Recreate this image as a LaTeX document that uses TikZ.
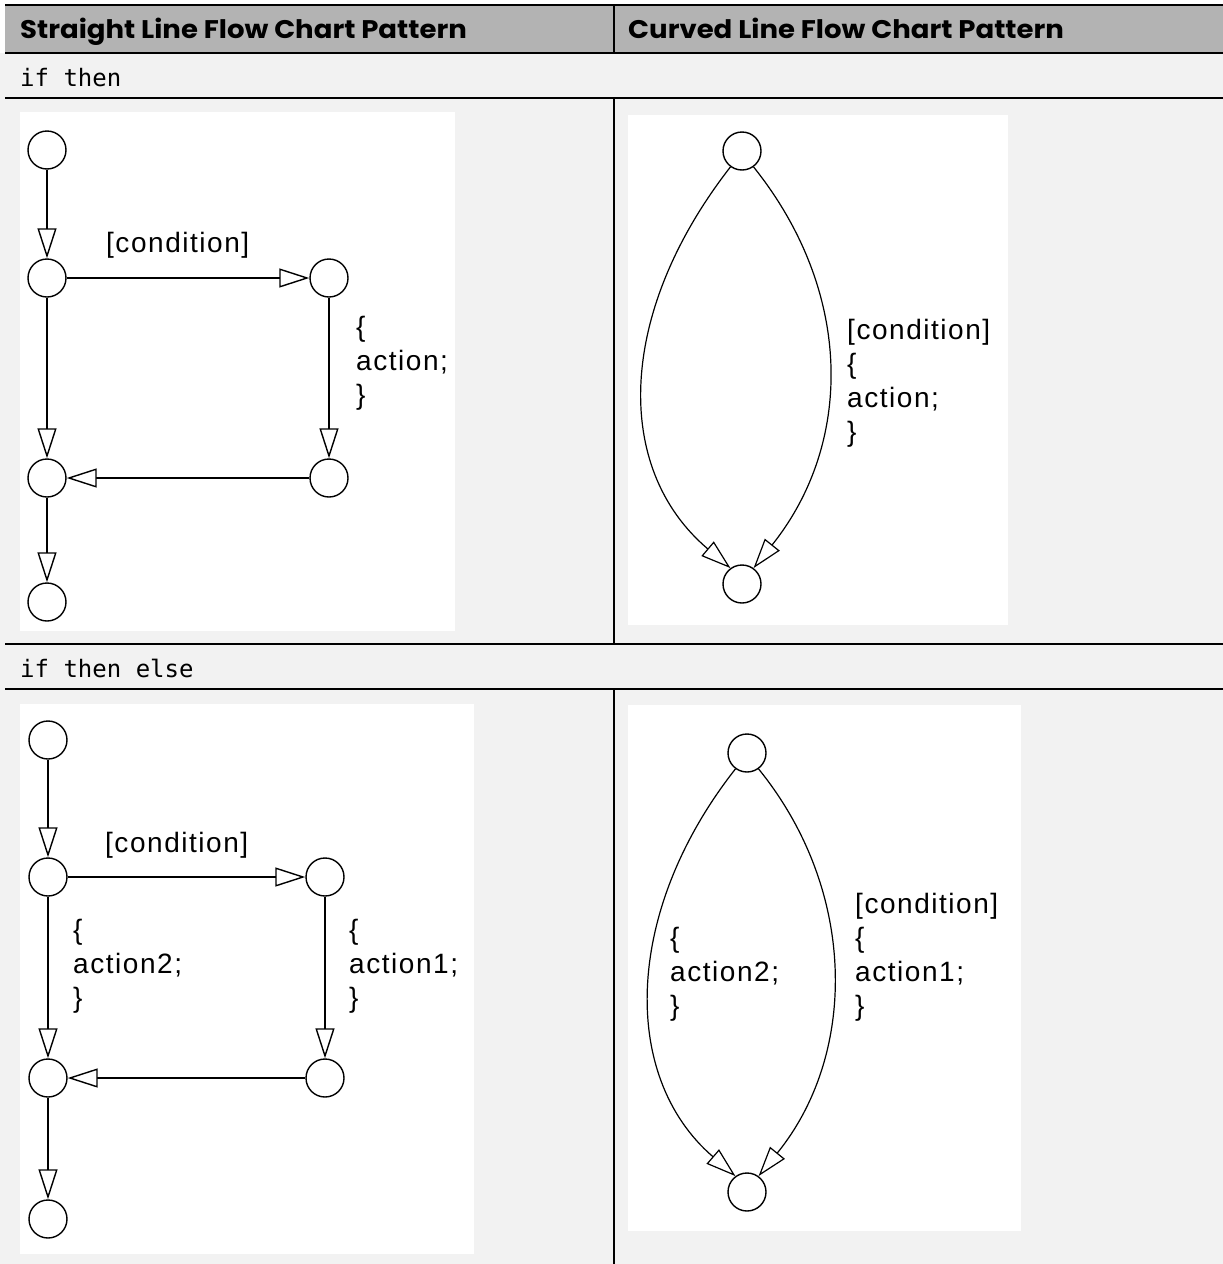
\documentclass[tikz,border=0pt]{standalone}
\usepackage{fontspec}
\setmainfont{Liberation Sans}
\newfontfamily\hdrfont{Poppins}
\newfontfamily\codefont{DejaVu Sans Mono}
\newfontfamily\lblfont{Liberation Sans}[LetterSpace=5.5]
\usetikzlibrary{arrows.meta}
\definecolor{hdrgray}{RGB}{179,179,179}
\definecolor{rowgray}{RGB}{242,242,242}
\newcommand{\lstack}[1]{\begin{tabular}[t]{@{}l@{}}#1\end{tabular}}
\newcommand{\hdrtext}[1]{\scalebox{1.08}[1]{#1}}
\tikzset{
  st/.style={circle,draw,line width=1.4pt,minimum size=38pt,inner sep=0pt,fill=white},
  tri/.style={line width=1.4pt,-{Triangle[length=30pt,width=19pt,fill=white,line width=1.4pt]}},
  cur/.style={line width=1.2pt,-{Triangle[length=30pt,width=19pt,fill=white,line width=1.2pt]}},
  lbl/.style={anchor=base west,inner sep=0pt,font=\lblfont\fontsize{28}{34}\selectfont},
  hdr/.style={anchor=base west,inner sep=0pt,font=\hdrfont\bfseries\fontsize{25.5}{30}\selectfont},
  code/.style={anchor=base west,inner sep=0pt,font=\codefont\fontsize{24}{28}\selectfont},
  rule/.style={line width=2.4pt},
  vrule/.style={line width=2.2pt}
}
\begin{document}
\begin{tikzpicture}[x=1pt,y=-1pt]
\useasboundingbox (0,0) rectangle (1223,1264);
\fill[white] (0,0) rectangle (1223,1264);
% backgrounds
\fill[rowgray] (0,53) rectangle (1223,1264);
\fill[hdrgray] (5,5) rectangle (1223,53);
% white image panels
\fill[white] (20,112) rectangle (455,631);
\fill[white] (628,115) rectangle (1008,625);
\fill[white] (20,704) rectangle (474,1254);
\fill[white] (628,705) rectangle (1021,1231);
% table rules
\draw[rule] (5,5) -- (1223,5);
\draw[rule] (5,53) -- (1223,53);
\draw[rule] (5,98) -- (1223,98);
\draw[rule] (5,644) -- (1223,644);
\draw[rule] (5,689) -- (1223,689);
\draw[vrule] (614,5) -- (614,53);
\draw[vrule] (614,98) -- (614,644);
\draw[vrule] (614,689) -- (614,1264);
% headers and row labels
\node[hdr] (h1) at (20,38) {\hdrtext{Straight Line Flow Chart Pattern}};
\node[hdr] (h2) at (628,38) {\hdrtext{Curved Line Flow Chart Pattern}};
\node[code] (r1) at (20,86) {if then};
\node[code] (r2) at (20,677) {if then else};

% ---------- diagram 1: straight, if then ----------
\node[st] (a1) at (47,150) {};
\node[st] (a2) at (47,278) {};
\node[st] (a3) at (329,278) {};
\node[st] (a4) at (329,478) {};
\node[st] (a5) at (47,478) {};
\node[st] (a6) at (47,602) {};
\draw[tri] (a1) -- (a2);
\draw[tri] (a2) -- (a3);
\draw[tri] (a3) -- (a4);
\draw[tri] (a2) -- (a5);
\draw[tri] (a4) -- (a5);
\draw[tri] (a5) -- (a6);
\node[lbl] (a2l) at (106,252) {[condition]};
\node[lbl] (a3l) at (356,336) {\lstack{\{\\action;\\\}}};

% ---------- diagram 2: curved, if then ----------
\node[st] (b1) at (742,151) {};
\node[st] (b2) at (742,584) {};
\draw[cur] (b1.-126) .. controls +(-113,145) and +(-118,-100) .. (b2.126);
\draw[cur] (b1.-54) .. controls +(100,125) and +(100,-125) .. (b2.54);
\node[lbl] (b1l) at (847,339) {\lstack{[condition]\\\{\\action;\\\}}};

% ---------- diagram 3: straight, if then else ----------
\node[st] (c1) at (48,740) {};
\node[st] (c2) at (48,877) {};
\node[st] (c3) at (325,877) {};
\node[st] (c4) at (325,1078) {};
\node[st] (c5) at (48,1078) {};
\node[st] (c6) at (48,1219) {};
\draw[tri] (c1) -- (c2);
\draw[tri] (c2) -- (c3);
\draw[tri] (c3) -- (c4);
\draw[tri] (c2) -- (c5);
\draw[tri] (c4) -- (c5);
\draw[tri] (c5) -- (c6);
\node[lbl] (c2l) at (105,852) {[condition]};
\node[lbl] (c5l) at (73,939) {\lstack{\{\\action2;\\\}}};
\node[lbl] (c3l) at (349,939) {\lstack{\{\\action1;\\\}}};

% ---------- diagram 4: curved, if then else ----------
\node[st] (d1) at (747,753) {};
\node[st] (d2) at (747,1192) {};
\draw[cur] (d1.-126) .. controls +(-111,141) and +(-116,-100) .. (d2.126);
\draw[cur] (d1.-54) .. controls +(99,122) and +(99,-122) .. (d2.54);
\node[lbl] (d1l) at (670,947) {\lstack{\{\\action2;\\\}}};
\node[lbl] (d2l) at (855,913) {\lstack{[condition]\\\{\\action1;\\\}}};
\end{tikzpicture}
\end{document}
